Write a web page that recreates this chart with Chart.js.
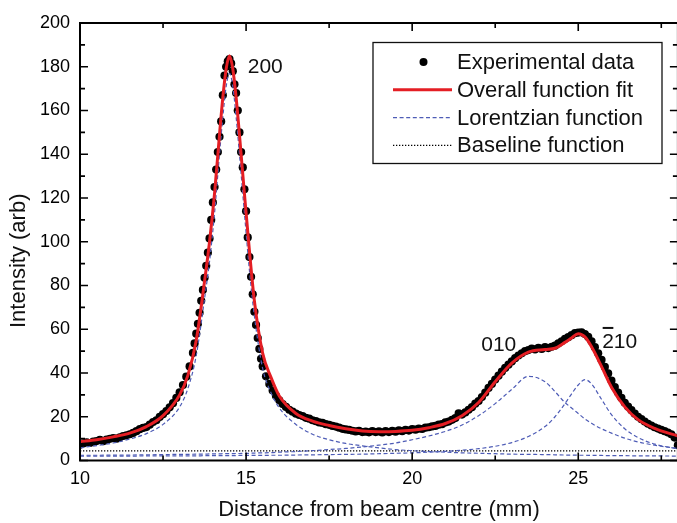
<!DOCTYPE html>
<html><head><meta charset="utf-8">
<script src="https://cdn.jsdelivr.net/npm/chart.js@4.4.1/dist/chart.umd.min.js"></script>
<style>
html,body{margin:0;padding:0;background:#fff;overflow:hidden;}
#wrap{width:677px;height:523px;overflow:hidden;position:relative;background:#fff;}
canvas{display:block;}
</style></head><body>
<div id="wrap"><canvas id="c" width="682" height="523" style="width:682px;height:523px"></canvas></div>
<script>
// ---------- data ----------
const expX = [10.0,10.1,10.2,10.3,10.4,10.5,10.6,10.7,10.8,10.9,11.0,11.1,11.2,11.3,11.4,11.5,11.6,11.7,11.8,11.9,12.0,12.1,12.2,12.3,12.4,12.5,12.6,12.7,12.8,12.9,13.0,13.1,13.2,13.3,13.4,
13.45,13.5,13.55,13.6,13.65,13.7,13.75,13.8,13.85,13.9,13.95,14.0,14.05,14.1,14.15,14.2,14.25,14.3,14.35,14.4,14.45,14.5,14.55,14.6,14.65,14.7,14.75,14.8,14.85,14.9,14.95,15.0,15.05,15.1,15.15,15.2,15.25,15.3,15.35,15.4,15.45,15.5,
15.6,15.7,15.8,15.9,16.0,16.1,16.2,16.3,16.4,16.5,16.6,16.7,16.8,16.9,17.0,17.1,17.2,17.3,17.4,17.5,17.6,17.7,17.8,17.9,18.0,18.1,18.2,18.3,18.4,18.5,18.6,18.7,18.8,18.9,19.0,19.1,19.2,19.3,19.4,19.5,19.6,19.7,19.8,19.9,20.0,20.1,20.2,20.3,20.4,20.5,20.6,20.7,20.8,20.9,21.0,21.1,21.2,21.3,21.4,21.5,21.6,21.7,21.8,21.9,22.0,22.1,22.2,22.3,22.4,22.5,22.6,22.7,22.8,22.9,23.0,23.1,23.2,23.3,23.4,23.5,23.6,23.7,23.8,23.9,24.0,24.1,24.2,24.3,24.4,24.5,24.6,24.7,24.8,24.9,25.0,25.1,25.2,25.3,25.4,25.5,25.6,25.7,25.8,25.9,26.0,26.1,26.2,26.3,26.4,26.5,26.6,26.7,26.8,26.9,27.0,27.1,27.2,27.3,27.4,27.5,27.6,27.7,27.8,27.9,28.0];
const expY = [7.2,7.8,8.3,8.0,8.6,8.9,9.4,8.8,9.5,9.9,10.2,10.0,10.6,11.2,11.5,12.0,12.6,13.4,14.3,14.9,15.3,16.4,17.6,18.4,19.9,21.2,22.6,24.3,26.2,28.6,31.2,34.5,38.3,43.0,49.2,
53.5,58.0,62.5,67.5,73.0,78.0,83.5,89.0,95.0,101.5,110,118,125,133,141,148,155,167,176,180,182.5,183.5,181.5,178,172,168,160,150,141,134,124,114,102,93,84,76,68,62,56,51,46.5,43,
38.5,35,32,29.5,27.5,25.8,24.5,23.2,22.3,21.4,20.8,20.3,19.5,19.1,18.4,18.0,17.4,17.2,16.6,16.3,15.8,15.5,15.0,14.5,14.2,14.0,13.6,13.3,13.5,13.0,13.2,12.9,13.4,13.0,13.3,12.8,13.4,13.0,13.5,13.2,13.8,13.4,14.0,13.7,14.3,14.1,14.6,14.4,15.0,15.2,15.6,15.8,16.4,16.6,17.4,17.8,18.6,19.4,21.5,21.0,22.0,23.2,24.4,26.0,27.2,29.0,31.0,33.2,35.0,37.0,38.8,40.6,42.3,43.8,45.3,46.8,48.0,49.0,50.0,50.5,51.2,50.8,51.5,51.0,51.8,51.4,52.0,52.5,53.5,54.5,55.6,56.4,57.3,58.2,58.5,58.6,57.8,56.5,54.5,51.8,49.0,46.0,42.8,39.8,36.5,33.6,31.0,28.6,26.4,24.6,23.0,21.4,20.0,18.9,17.8,16.8,16.0,15.2,14.6,14.0,13.4,12.8,12.0,10.5,7.0];

const fitX = [10,10.5,11,11.5,12,12.5,13,13.25,13.5,13.75,13.9,14.05,14.2,14.3,14.4,14.5,14.6,14.7,14.8,14.95,15.1,15.25,15.5,15.75,16,16.5,17,17.5,18,18.5,19,19.5,20,20.5,21,21.5,22,22.5,23,23.5,24,24.3,24.6,24.8,25,25.2,25.4,25.7,26,26.4,26.8,27.3,28];
const fitY = [8.6,9.5,10.8,12.5,15.5,20.5,30,39,55,82,100,122,149,166,179,185,179,166,149,122,96,73,49,38,29.5,21.5,18,16,14.5,13.5,13.2,13.3,13.8,15,16.9,20.5,26.5,36,44.5,49.5,50.7,51.3,54,56,58,56.5,52,43,33.5,24.5,18.7,14.7,11.2];
const lor200Y = [5.8,6.8,8,9.8,12.3,16.5,24.5,33,48,74,91,113,140,157,171,177,171,157,140,113,87,66,42,31,24,16.5,12,9.5,7.8,6.7,5.8,5.0,4.5,4.1,3.8,3.5,3.3,3.1,2.9,2.8,2.7,2.6,2.5,2.5,2.4,2.4,2.3,2.3,2.2,2.2,2.1,2.1,2.0];
const lor010Y = [2.4,2.4,2.5,2.5,2.6,2.7,2.8,2.8,2.9,2.9,3.0,3.0,3.0,3.1,3.1,3.1,3.1,3.2,3.2,3.3,3.3,3.4,3.5,3.6,3.8,4.1,4.5,5.0,5.5,6.2,7.0,8.0,9.5,11.2,13.3,16.2,20.5,26,32.5,38.5,36,31.5,26.5,24,21.5,19,17,14.5,12.5,10.2,8.5,7,5.5];
const lor210Y = [2.0,2.0,2.0,2.0,2.1,2.1,2.1,2.1,2.1,2.2,2.2,2.2,2.2,2.2,2.2,2.2,2.2,2.2,2.3,2.3,2.3,2.3,2.3,2.4,2.4,2.5,2.6,2.7,2.8,2.9,3.1,3.3,3.5,3.8,4.2,4.7,5.4,6.5,8.2,11,15.5,20,26,30.5,34.5,37,35,28,21,14.5,10.5,7.5,5.3];
const baseX = [10, 28];
const baseY = [4.4, 4.4];

const seriesNames = ['Experimental data', 'Overall function fit', 'Lorentzian function', 'Baseline function'];
const xMajorTicks = [10, 15, 20, 25];
const xMinorTicks = [12.5, 17.5, 22.5, 27.5];
const yMajorTicks = [0, 20, 40, 60, 80, 100, 120, 140, 160, 180, 200];
const yMinorTicks = [10, 30, 50, 70, 90, 110, 130, 150, 170, 190];
const peakLabels = [
  {text: '200', x: 15.05, y: 179.6, bar: false},
  {text: '010', x: 22.08, y: 52.9, bar: false},
  {text: '210', x: 25.72, y: 54.2, bar: true}
];

// ---------- chart ----------
const FONT = "'Liberation Sans', Arial, Helvetica, sans-serif";
const BLUE = 'rgb(78,92,182)';
const RED = 'rgb(228,30,36)';
const pts = (xs, ys) => xs.map((x, i) => ({x: x, y: ys[i]}));

const lorStyle = {borderColor: BLUE, borderWidth: 1.2, borderDash: [4, 2.6], pointRadius: 0, cubicInterpolationMode: 'monotone', fill: false, order: 1};

const decor = {
  id: 'decor',
  afterLayout(chart) {
    // move the y title a little lower, like the reference
    const y = chart.scales.y; y.top += 19; y.bottom += 19;
  },
  afterDraw(chart) {
    const ctx = chart.ctx, sx = chart.scales.x, sy = chart.scales.y;
    const top = sy.getPixelForValue(200), bottom = sy.getPixelForValue(0);
    const left = sx.getPixelForValue(10), right = sx.getPixelForValue(28);
    ctx.save();
    ctx.strokeStyle = '#000'; ctx.lineWidth = 2;
    ctx.strokeRect(left, top, right - left, bottom - top);
    ctx.lineWidth = 1.6;
    ctx.beginPath();
    const tx = (v, len) => { const p = sx.getPixelForValue(v); ctx.moveTo(p, bottom); ctx.lineTo(p, bottom - len); ctx.moveTo(p, top); ctx.lineTo(p, top + len); };
    const ty = (v, len) => { const p = sy.getPixelForValue(v); ctx.moveTo(left, p); ctx.lineTo(left + len, p); ctx.moveTo(right, p); ctx.lineTo(right - len, p); };
    xMajorTicks.forEach(v => tx(v, 8)); xMinorTicks.forEach(v => tx(v, 5));
    yMajorTicks.forEach(v => ty(v, 8)); yMinorTicks.forEach(v => ty(v, 5));
    ctx.stroke();

    // peak labels
    ctx.fillStyle = '#111'; ctx.font = '21px ' + FONT; ctx.textAlign = 'left'; ctx.textBaseline = 'middle';
    peakLabels.forEach(l => {
      const px = sx.getPixelForValue(l.x), py = sy.getPixelForValue(l.y);
      ctx.fillText(l.text, px, py);
      if (l.bar) {
        const w = ctx.measureText(l.text.charAt(0)).width;
        ctx.fillRect(px + 0.5, py - 15, w - 1, 2);
      }
    });

    // legend box
    const box = {left: 373, top: 42.5, width: 289, height: 121};
    ctx.fillStyle = '#fff';
    ctx.fillRect(box.left, box.top, box.width, box.height);
    ctx.strokeStyle = '#111'; ctx.lineWidth = 1.3;
    ctx.strokeRect(box.left, box.top, box.width, box.height);
    ctx.font = '22px ' + FONT; ctx.textBaseline = 'middle'; ctx.textAlign = 'left';
    const entries = chart.data.datasets.filter(d => d.inLegend !== false);
    entries.forEach((d, i) => {
      const yy = box.top + 19.5 + i * 27.8;
      ctx.save();
      if (d.showLine === false) {
        ctx.fillStyle = '#000'; ctx.beginPath(); ctx.arc(423.5, yy, 4, 0, Math.PI * 2); ctx.fill();
      } else {
        ctx.strokeStyle = d.borderColor; ctx.lineWidth = d.borderWidth; ctx.setLineDash(d.borderDash || []);
        ctx.beginPath(); ctx.moveTo(393, yy); ctx.lineTo(452, yy); ctx.stroke();
      }
      ctx.restore();
      ctx.fillStyle = '#111';
      ctx.fillText(d.label, 457, yy + 1);
    });
    ctx.restore();
  }
};

new Chart(document.getElementById('c'), {
  type: 'line',
  data: {
    datasets: [
      {label: seriesNames[0], data: pts(expX, expY), showLine: false, pointRadius: 4.1, pointBackgroundColor: '#000', pointBorderColor: '#000', pointBorderWidth: 0, borderColor: '#000', order: 3},
      {label: seriesNames[1], data: pts(fitX, fitY), borderColor: RED, borderWidth: 3, pointRadius: 0, cubicInterpolationMode: 'monotone', fill: false, order: 0},
      Object.assign({label: seriesNames[2], data: pts(fitX, lor200Y)}, lorStyle),
      Object.assign({label: seriesNames[2], data: pts(fitX, lor010Y), inLegend: false}, lorStyle),
      Object.assign({label: seriesNames[2], data: pts(fitX, lor210Y), inLegend: false}, lorStyle),
      {label: seriesNames[3], data: pts(baseX, baseY), borderColor: '#000', borderWidth: 1.3, borderDash: [1.3, 1.7], pointRadius: 0, fill: false, order: 2}
    ]
  },
  options: {
    responsive: false, animation: false, devicePixelRatio: 1,
    layout: {padding: {top: 23, right: 3, bottom: 0, left: 0}},
    plugins: {legend: {display: false}, tooltip: {enabled: false}},
    scales: {
      x: {
        type: 'linear', min: 10, max: 28,
        afterFit(s) { s.height = 62.5; },
        afterBuildTicks(s) { s.ticks = xMajorTicks.map(v => ({value: v})); },
        grid: {display: false, drawTicks: false}, border: {display: false},
        ticks: {padding: 8, color: '#000', font: {family: FONT, size: 18}, maxRotation: 0, autoSkip: false, includeBounds: false},
        title: {display: true, text: 'Distance from beam centre (mm)', color: '#111', font: {family: FONT, size: 22}, padding: {top: 0, bottom: 0}}
      },
      y: {
        type: 'linear', min: 0, max: 200,
        afterFit(s) { s.width = 80; },
        afterBuildTicks(s) { s.ticks = yMajorTicks.map(v => ({value: v})); },
        grid: {display: false, drawTicks: false}, border: {display: false},
        ticks: {padding: 10, color: '#000', font: {family: FONT, size: 18}, autoSkip: false, includeBounds: false},
        title: {display: true, text: 'Intensity (arb)', color: '#111', font: {family: FONT, size: 22}, padding: {top: 6, bottom: 0}}
      }
    }
  },
  plugins: [decor]
});
</script>
</body></html>
